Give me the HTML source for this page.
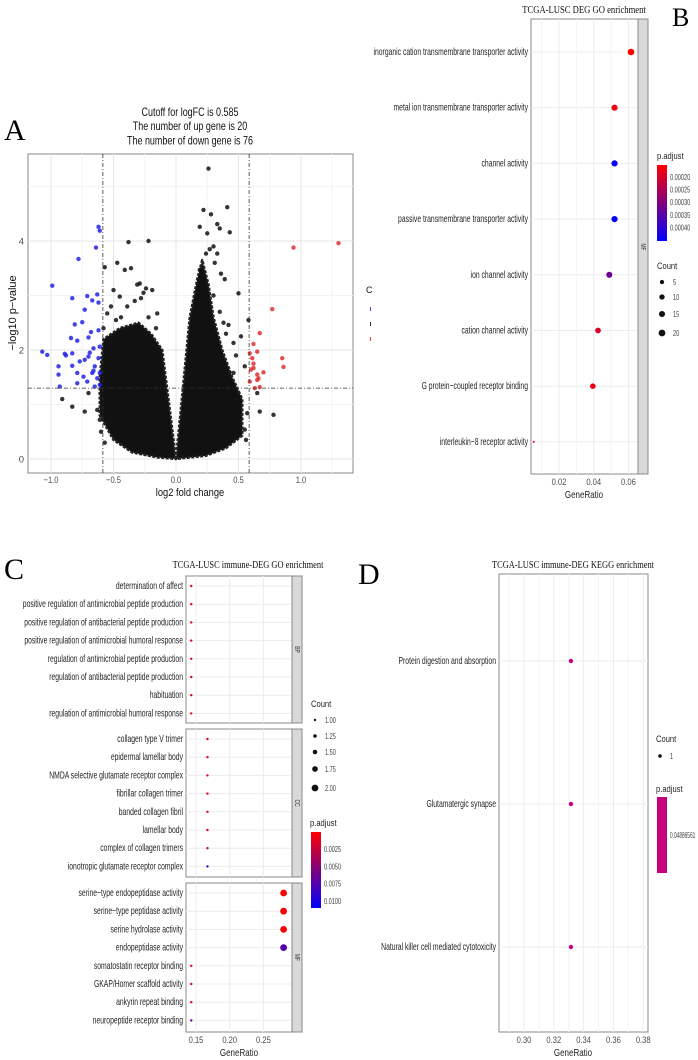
<!DOCTYPE html>
<html><head><meta charset="utf-8"><style>
html,body{margin:0;padding:0;background:#fff;}
svg{display:block;font-family:"Liberation Sans",sans-serif;}
</style></head><body>
<svg id="svg" width="698" height="1060" viewBox="0 0 698 1060">
<defs>
<linearGradient id="rb" x1="0" y1="0" x2="0" y2="1"><stop offset="0" stop-color="#ff0000"/><stop offset="1" stop-color="#0000ff"/></linearGradient>
</defs>
</svg>
<script>
// ---------- Panel A data (volcano) ----------
const blueX=[-0.62,-0.61,-0.64,-0.78,-0.99,-0.83,-0.71,-0.63,-0.67,-0.73,-0.62,-0.75,-0.81,-0.68,-0.62,-0.70,-0.79,-1.07,-1.03,-0.89,-0.83,-0.66,-0.61,-0.94,-0.94,-0.83,-0.77,-0.73,-0.70,-0.65,-0.62,-0.79,-0.74,-0.67,-0.63,-0.61,-0.79,-0.71,-0.65,-0.61,-0.93,-0.84,-0.88,-0.69,-0.66];
const blueY=[4.26,4.19,3.88,3.67,3.18,2.95,2.99,3.02,2.91,2.74,2.87,2.51,2.47,2.33,2.36,2.23,2.17,1.97,1.91,1.93,1.94,2.03,2.06,1.70,1.55,1.71,1.79,1.82,1.88,1.70,1.85,1.58,1.51,1.58,1.48,1.58,1.39,1.42,1.33,1.36,1.33,2.22,1.90,1.95,1.62];
const redX=[0.94,1.30,0.77,0.67,0.62,0.65,0.59,0.85,0.86,0.70,0.62,0.65,0.66,0.62,0.59,0.63,0.67,0.60,0.61,0.65];
const redY=[3.88,3.96,2.75,2.31,2.11,1.97,1.94,1.85,1.69,1.59,1.75,1.55,1.48,1.67,1.42,1.30,1.32,1.64,1.85,1.45];
const blackX=[0.26,0.22,0.41,0.28,0.33,0.43,0.19,0.35,-0.22,-0.38,-0.47,-0.41,-0.36,-0.57,-0.29,-0.24,0.50,0.39,0.30,0.25,0.24,0.33,0.19,-0.91,-0.83,-0.73,0.78,0.67,0.50,0.55,0.65,0.58,0.42,0.52,0.46,-0.50,-0.45,-0.39,-0.61,-0.63,-0.70,-0.55,0.57,0.46,0.43,-0.19,-0.15,-0.52,-0.33,-0.28,0.36,0.48,0.55,-0.58,-0.44,0.31,0.27,-0.31,-0.26,0.40,0.35,0.47,0.56,-0.57,-0.60,-0.48,-0.16,-0.22,0.30,0.38];
const blackY=[5.33,4.57,4.62,4.49,4.31,4.16,4.26,4.23,4.00,3.98,3.60,3.47,3.50,3.52,3.22,3.13,3.04,3.30,3.90,4.14,3.77,3.77,3.47,1.10,0.96,0.87,0.81,0.87,0.49,0.54,1.21,2.55,2.46,2.25,2.13,3.10,2.98,2.80,0.72,0.90,1.21,2.67,0.84,1.58,1.33,3.10,2.67,2.80,2.90,2.95,3.40,1.90,1.70,2.40,2.60,3.60,3.85,3.20,3.05,2.30,2.70,0.70,0.35,0.30,0.50,2.55,2.40,2.60,3.00,2.50];
const leftMassX=[0.0,-0.11,-0.20,-0.30,-0.45,-0.58,-0.61,-0.61,-0.50,-0.35,-0.15];
const leftMassY=[0.0,2.00,2.30,2.50,2.40,2.20,1.50,0.80,0.35,0.12,0.03];
const rightMassX=[0.0,0.11,0.17,0.21,0.26,0.30,0.37,0.45,0.53,0.53,0.40,0.24];
const rightMassY=[0.0,2.60,3.30,3.65,3.20,2.60,2.00,1.50,1.10,0.43,0.20,0.06];
const aXTicks=[-1.0,-0.5,0.0,0.5,1.0];
const aXTickLabels=["-1.0","-0.5","0.0","0.5","1.0"];
const aYTicks=[0,2,4];

// ---------- Panel B data ----------
const bCats=["inorganic cation transmembrane transporter activity","metal ion transmembrane transporter activity","channel activity","passive transmembrane transporter activity","ion channel activity","cation channel activity","G protein\u2212coupled receptor binding","interleukin\u22128 receptor activity"];
const bRatio=[0.0615,0.052,0.052,0.052,0.049,0.0425,0.0395,0.0054];
const bCount=[20,17,17,17,16,14,13,2];
const bPadj=[0.00018,0.00020,0.00042,0.00043,0.00032,0.00022,0.00020,0.00021];
const bXTicks=[0.02,0.04,0.06];
const bColorTicks=["0.00020","0.00025","0.00030","0.00035","0.00040"];
const bSizeTicks=[5,10,15,20];

// ---------- Panel C data ----------
const cBP=["determination of affect","positive regulation of antimicrobial peptide production","positive regulation of antibacterial peptide production","positive regulation of antimicrobial humoral response","regulation of antimicrobial peptide production","regulation of antibacterial peptide production","habituation","regulation of antimicrobial humoral response"];
const cBPRatio=[0.143,0.143,0.143,0.143,0.143,0.143,0.143,0.143];
const cBPCount=[1,1,1,1,1,1,1,1];
const cBPPadj=[0.002,0.002,0.002,0.002,0.002,0.002,0.002,0.002];
const cCC=["collagen type V trimer","epidermal lamellar body","NMDA selective glutamate receptor complex","fibrillar collagen trimer","banded collagen fibril","lamellar body","complex of collagen trimers","ionotropic glutamate receptor complex"];
const cCCRatio=[0.167,0.167,0.167,0.167,0.167,0.167,0.167,0.167];
const cCCCount=[1,1,1,1,1,1,1,1];
const cCCPadj=[0.002,0.002,0.002,0.002,0.002,0.002,0.003,0.009];
const cMF=["serine\u2212type endopeptidase activity","serine\u2212type peptidase activity","serine hydrolase activity","endopeptidase activity","somatostatin receptor binding","GKAP/Homer scaffold activity","ankyrin repeat binding","neuropeptide receptor binding"];
const cMFRatio=[0.28,0.28,0.28,0.28,0.143,0.143,0.143,0.143];
const cMFCount=[2,2,2,2,1,1,1,1];
const cMFPadj=[0.0012,0.0012,0.0012,0.0075,0.002,0.002,0.002,0.007];
const cXTicks=[0.15,0.20,0.25];
const cColorTicks=["0.0025","0.0050","0.0075","0.0100"];
const cSizeTicks=["1.00","1.25","1.50","1.75","2.00"];

// ---------- Panel D data ----------
const dCats=["Protein digestion and absorption","Glutamatergic synapse","Natural killer cell mediated cytotoxicity"];
const dRatio=[0.3315,0.3315,0.3315];
const dXTicks=[0.30,0.32,0.34,0.36,0.38];

const NS="http://www.w3.org/2000/svg";
const svg=document.getElementById('svg');
function mk(tag,attrs,parent){const e=document.createElementNS(NS,tag);for(const k in attrs)e.setAttribute(k,attrs[k]);(parent||svg).appendChild(e);return e;}
function txt(s,attrs,parent){const e=mk('text',attrs,parent);e.textContent=s;return e;}
function mix(t){t=Math.max(0,Math.min(1,t));const r=Math.round(255*(1-t)),b=Math.round(255*t);return `rgb(${r},0,${b})`;}
let el;

// ================= Panel A =================
const ax=v=>176+v*125, ay=v=>459-v*54.5;
el=txt("A",{x:4,y:140,'font-family':'Liberation Serif,serif','font-size':30});


const aTitles=["Cutoff for logFC is 0.585","The number of up gene is 20","The number of down gene is 76"];
aTitles.forEach((t,i)=>{
  el=txt(t,{transform:`translate(190,${116+i*14.2}) scale(0.78,1)`,'text-anchor':'middle','font-size':11.5,fill:'#111'});
  
  
});
el=mk('rect',{x:28,y:154,width:325,height:319,fill:'#fff',stroke:'#888','stroke-width':1});


[-0.75,-0.25,0.25,0.75,1.25].forEach(v=>{el=mk('line',{x1:ax(v),x2:ax(v),y1:154,y2:473,stroke:'#f3f3f3'});});
[1,3,5].forEach(v=>{el=mk('line',{x1:28,x2:353,y1:ay(v),y2:ay(v),stroke:'#f3f3f3'});});
aXTicks.forEach((v,i)=>{
  el=mk('line',{x1:ax(v),x2:ax(v),y1:154,y2:473,stroke:'#e6e6e6'});
  
  
  el=txt(aXTickLabels[i].replace('-','\u2212'),{transform:`translate(${ax(v)},483) scale(0.8,1)`,'text-anchor':'middle','font-size':9.5,fill:'#4d4d4d'});
  
  
});
aYTicks.forEach(v=>{
  el=mk('line',{x1:28,x2:353,y1:ay(v),y2:ay(v),stroke:'#e6e6e6'});
  
  
  el=txt(String(v),{x:24,y:ay(v)+3.5,'text-anchor':'end','font-size':9.5,fill:'#4d4d4d'});
  
  
});
function massPoly(xs,ys,name){
  const pts=xs.map((x,i)=>ax(x)+','+ay(ys[i])).join(' ');
  el=mk('polygon',{points:pts,fill:'#111',stroke:'#222','stroke-width':2.5,'stroke-linejoin':'round','stroke-dasharray':'3,1.5'});
  
  
}
massPoly(leftMassX,leftMassY,'dense-points-down-side');
massPoly(rightMassX,rightMassY,'dense-points-up-side');
blackX.forEach((x,i)=>{el=mk('circle',{cx:ax(x),cy:ay(blackY[i]),r:2.2,fill:'#111',opacity:0.85});});
blueX.forEach((x,i)=>{el=mk('circle',{cx:ax(x),cy:ay(blueY[i]),r:2.2,fill:'#2323e6',opacity:0.85});});
redX.forEach((x,i)=>{el=mk('circle',{cx:ax(x),cy:ay(redY[i]),r:2.2,fill:'#e03030',opacity:0.85});});
[-0.585,0.585].forEach(v=>{el=mk('line',{x1:ax(v),x2:ax(v),y1:154,y2:473,stroke:'#333','stroke-dasharray':'4,2,1,2','stroke-width':0.8});});
el=mk('line',{x1:28,x2:353,y1:ay(1.3),y2:ay(1.3),stroke:'#333','stroke-dasharray':'4,2,1,2','stroke-width':0.8});


el=txt("\u2212log10 p\u2212value",{transform:'translate(16,313) rotate(-90)','text-anchor':'middle','font-size':11,fill:'#111'});


el=txt("log2 fold change",{transform:'translate(190,496) scale(0.85,1)','text-anchor':'middle','font-size':11,fill:'#111'});


el=txt("C",{x:366,y:293,'font-size':9,fill:'#111'});


['#44f','#333','#e44'].forEach((c,i)=>{el=mk('rect',{x:370,y:307+i*15,width:1,height:4,fill:c});});

// ================= Panel B =================
const bx=v=>559+(v-0.02)*1735, by=i=>52+i*55.7;
const bmin=0.00018,bmax=0.00043;
el=txt("TCGA-LUSC DEG GO enrichment",{transform:'translate(584,13) scale(0.82,1)','text-anchor':'middle','font-family':'Liberation Serif,serif','font-size':10.5,fill:'#111'});


el=txt("B",{x:672,y:26,'font-family':'Liberation Serif,serif','font-size':26});


el=mk('rect',{x:531,y:19,width:107,height:455,fill:'#fff',stroke:'#888'});


[0.01,0.03,0.05].forEach(v=>{el=mk('line',{x1:bx(v),x2:bx(v),y1:19,y2:474,stroke:'#f4f4f4'});});
bXTicks.forEach(v=>{
  el=mk('line',{x1:bx(v),x2:bx(v),y1:19,y2:474,stroke:'#ececec'});
  
  
  el=txt(v.toFixed(2),{transform:`translate(${bx(v)},485) scale(0.8,1)`,'text-anchor':'middle','font-size':9.5,fill:'#4d4d4d'});
  
  
});
bCats.forEach((c,i)=>{
  el=mk('line',{x1:531,x2:638,y1:by(i),y2:by(i),stroke:'#ececec'});
  
  
  el=txt(c,{transform:`translate(528,${by(i)+3}) scale(0.68,1)`,'text-anchor':'end','font-size':10,fill:'#222'});
  
  
  const r=1+2.3*Math.sqrt((bCount[i]-2)/18);
  el=mk('circle',{cx:bx(bRatio[i]),cy:by(i),r:r,fill:mix((bPadj[i]-bmin)/(bmax-bmin))});
  
  
});
el=mk('rect',{x:638,y:19,width:10,height:455,fill:'#d9d9d9',stroke:'#888'});


el=txt("MF",{transform:'translate(641,247) rotate(90) scale(0.7,1)','text-anchor':'middle','font-size':7,fill:'#333'});


el=txt("p.adjust",{transform:'translate(657,159) scale(0.8,1)','font-size':9.5,fill:'#222'});


el=mk('rect',{x:657,y:165,width:10,height:76,fill:'url(#rb)'});


bColorTicks.forEach((t,i)=>{el=txt(t,{transform:`translate(670,${180+i*12.6}) scale(0.7,1)`,'font-size':8,fill:'#444'});});
el=txt("Count",{transform:'translate(657,269) scale(0.8,1)','font-size':9.5,fill:'#222'});


bSizeTicks.forEach((c,i)=>{
  const y=[282,297,314,333][i];
  el=mk('circle',{cx:662,cy:y,r:1+2.3*Math.sqrt((c-2)/18)*0.9+0.3,fill:'#111'});
  
  
  el=txt(String(c),{transform:`translate(673,${y+3}) scale(0.7,1)`,'font-size':8,fill:'#444'});
  
  
});

// ================= Panel C =================
const cx=v=>196+(v-0.15)*674;
const cmin=0.001,cmax=0.0105;
el=txt("C",{x:4,y:579,'font-family':'Liberation Serif,serif','font-size':30});


el=txt("TCGA-LUSC immune-DEG GO enrichment",{transform:'translate(248,568) scale(0.8,1)','text-anchor':'middle','font-family':'Liberation Serif,serif','font-size':10.5,fill:'#111'});


const cFacets=[{n:'BP',top:576,bot:723,cats:cBP,r:cBPRatio,c:cBPCount,p:cBPPadj},{n:'CC',top:729,bot:877,cats:cCC,r:cCCRatio,c:cCCCount,p:cCCPadj},{n:'MF',top:883,bot:1032,cats:cMF,r:cMFRatio,c:cMFCount,p:cMFPadj}];
cFacets.forEach(f=>{
  const cy=i=>f.top+10+i*18.2;
  el=mk('rect',{x:186,y:f.top,width:106,height:f.bot-f.top,fill:'#fff',stroke:'#888'});
  
  
  cXTicks.forEach(v=>{el=mk('line',{x1:cx(v),x2:cx(v),y1:f.top,y2:f.bot,stroke:'#ececec'});});
  f.cats.forEach((c,i)=>{
    el=mk('line',{x1:186,x2:292,y1:cy(i),y2:cy(i),stroke:'#ececec'});
    
    
    el=txt(c,{transform:`translate(183,${cy(i)+3}) scale(0.68,1)`,'text-anchor':'end','font-size':10,fill:'#222'});
    
    
    el=mk('circle',{cx:cx(f.r[i]),cy:cy(i),r:f.c[i]>1?3.4:1.2,fill:mix((f.p[i]-cmin)/(cmax-cmin))});
    
    
  });
  el=mk('rect',{x:292,y:f.top,width:10,height:f.bot-f.top,fill:'#d9d9d9',stroke:'#888'});
  
  
  el=txt(f.n,{transform:`translate(295,${(f.top+f.bot)/2}) rotate(90) scale(0.7,1)`,'text-anchor':'middle','font-size':7,fill:'#333'});
  
  
});
cXTicks.forEach(v=>{el=txt(v.toFixed(2),{transform:`translate(${cx(v)},1043) scale(0.8,1)`,'text-anchor':'middle','font-size':9.5,fill:'#4d4d4d'});});
el=txt("GeneRatio",{transform:'translate(239,1056) scale(0.8,1)','text-anchor':'middle','font-size':10,fill:'#222'});


el=txt("Count",{transform:'translate(311,707) scale(0.8,1)','font-size':9.5,fill:'#222'});


cSizeTicks.forEach((t,i)=>{
  const y=[720,736,752,769,788][i];
  el=mk('circle',{cx:315,cy:y,r:1.2+i*0.55,fill:'#111'});
  
  
  el=txt(t,{transform:`translate(325,${y+3}) scale(0.7,1)`,'font-size':8,fill:'#444'});
  
  
});
el=txt("p.adjust",{transform:'translate(310,826) scale(0.8,1)','font-size':9.5,fill:'#222'});


el=mk('rect',{x:311,y:832,width:10,height:76,fill:'url(#rb)'});


cColorTicks.forEach((t,i)=>{el=txt(t,{transform:`translate(324,${852+i*17.3}) scale(0.7,1)`,'font-size':8,fill:'#444'});});

// ================= Panel D =================
const dx=v=>524+(v-0.30)*1490, dy=i=>661+i*143;
el=txt("D",{x:358,y:584,'font-family':'Liberation Serif,serif','font-size':30});


el=txt("TCGA-LUSC immune-DEG KEGG enrichment",{transform:'translate(573,568) scale(0.8,1)','text-anchor':'middle','font-family':'Liberation Serif,serif','font-size':10.5,fill:'#111'});


el=mk('rect',{x:499,y:574,width:149,height:458,fill:'#fff',stroke:'#888'});


[0.29,0.31,0.33,0.35,0.37].forEach(v=>{el=mk('line',{x1:dx(v),x2:dx(v),y1:574,y2:1032,stroke:'#f4f4f4'});});
dXTicks.forEach(v=>{
  el=mk('line',{x1:dx(v),x2:dx(v),y1:574,y2:1032,stroke:'#ececec'});
  
  
  el=txt(v.toFixed(2),{transform:`translate(${dx(v)},1043) scale(0.8,1)`,'text-anchor':'middle','font-size':9.5,fill:'#4d4d4d'});
  
  
});
dCats.forEach((c,i)=>{
  el=mk('line',{x1:499,x2:648,y1:dy(i),y2:dy(i),stroke:'#ececec'});
  
  
  el=txt(c,{transform:`translate(496,${dy(i)+3}) scale(0.68,1)`,'text-anchor':'end','font-size':10,fill:'#222'});
  
  
  el=mk('circle',{cx:dx(dRatio[i]),cy:dy(i),r:2.2,fill:'#c8007f'});
  
  
});
el=txt("GeneRatio",{transform:'translate(573,1056) scale(0.8,1)','text-anchor':'middle','font-size':10,fill:'#222'});


el=txt("Count",{transform:'translate(656,742) scale(0.8,1)','font-size':9.5,fill:'#222'});


el=mk('circle',{cx:660,cy:756,r:1.8,fill:'#111'});


el=txt("1",{transform:'translate(670,759) scale(0.7,1)','font-size':8,fill:'#444'});


el=txt("p.adjust",{transform:'translate(656,792) scale(0.8,1)','font-size':9.5,fill:'#222'});


el=mk('rect',{x:657,y:797,width:10,height:76,fill:'#c8007f'});


el=txt("0.04886561",{transform:'translate(670,838) scale(0.6,1)','font-size':8,fill:'#444'});



// Panel B axis title
el=txt("GeneRatio",{transform:'translate(584,498) scale(0.8,1)','text-anchor':'middle','font-size':10,fill:'#222'});


</script>
</body></html>
